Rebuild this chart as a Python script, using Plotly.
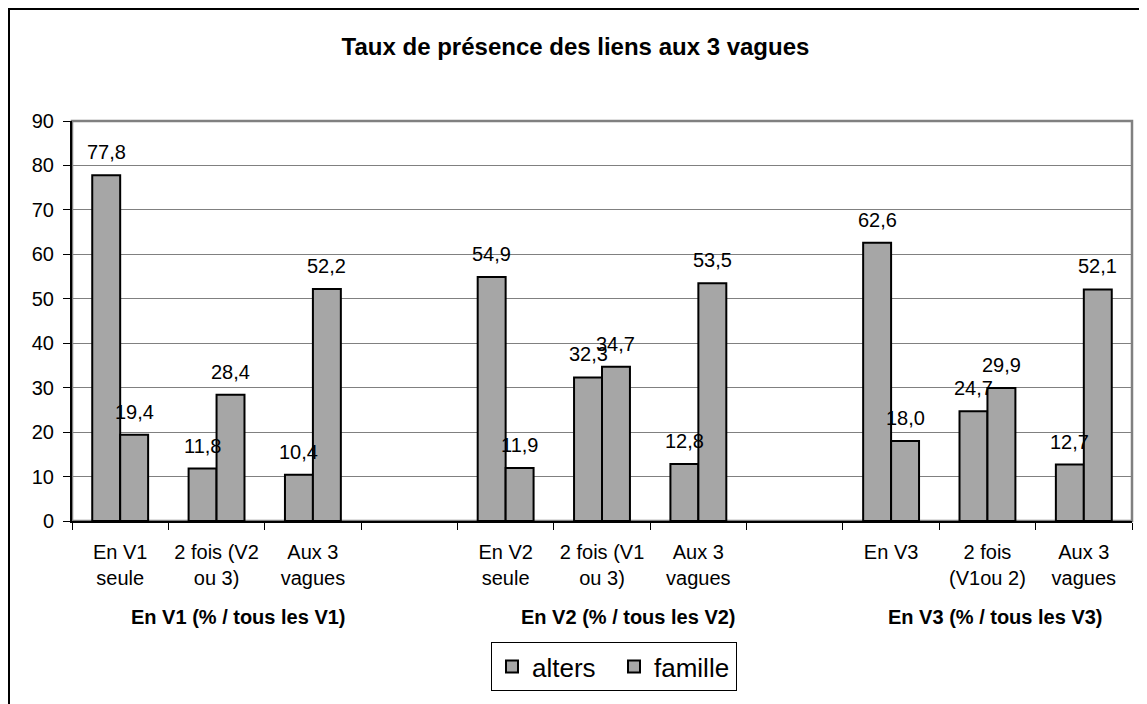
import plotly.graph_objects as go

# ---- data ----
categories = ["En V1<br>seule", "2 fois (V2<br>ou 3)", "Aux 3<br>vagues", "",
              "En V2<br>seule", "2 fois (V1<br>ou 3)", "Aux 3<br>vagues", "",
              "En V3", "2 fois<br>(V1ou 2)", "Aux 3<br>vagues"]
alters = [77.8, 11.8, 10.4, None, 54.9, 32.3, 12.8, None, 62.6, 24.7, 12.7]
famille = [19.4, 28.4, 52.2, None, 11.9, 34.7, 53.5, None, 18.0, 29.9, 52.1]
series_names = ["alters", "famille"]
group_labels = ["En V1 (% / tous les V1)", "En V2 (% / tous les V2)", "En V3 (% / tous les V3)"]
title_text = "Taux de présence des liens aux 3 vagues"

# ---- layout constants (page body has an 8px margin) ----
OFF = 8
W, H = 1147 - OFF, 704 - OFF
PLOT_L, PLOT_R, PLOT_T, PLOT_B = 72 - OFF, 1132 - OFF, 121 - OFF, 521 - OFF
ML, MR, MT, MB = PLOT_L, W - PLOT_R, PLOT_T, H - PLOT_B
PW, PH = PLOT_R - PLOT_L, PLOT_B - PLOT_T
group_label_pos = [1.23, 5.27, 9.08]
FONT = "Arial, Liberation Sans, sans-serif"
BAR_COLOR = "#A6A6A6"

def px_x(px):
    return (px - OFF - PLOT_L) / PW

def px_y(py):
    return (PLOT_B - (py - OFF)) / PH

x_idx = list(range(len(categories)))

def fmt(v):
    return f"{v:.1f}".replace(".", ",")

fig = go.Figure()
for name, vals in zip(series_names, [alters, famille]):
    fig.add_trace(go.Bar(
        x=x_idx, y=vals, name=name,
        marker=dict(color=BAR_COLOR, line=dict(color="black", width=2)),
        hoverinfo="skip",
    ))

bar_w_px = (1 - 0.42) * PW / len(categories) / 2
annotations = []
for k, vals in enumerate([alters, famille]):
    shift = (-0.5 + k) * bar_w_px
    for xi, v in zip(x_idx, vals):
        if v is None:
            continue
        annotations.append(dict(
            x=xi, y=v, xref="x", yref="y", text=fmt(v), showarrow=False,
            xshift=shift, yshift=23, yanchor="middle", xanchor="center",
            font=dict(family=FONT, size=20, color="black"),
        ))

for gx, gl in zip(group_label_pos, group_labels):
    annotations.append(dict(
        x=gx, y=px_y(617), xref="x", yref="paper", text=f"<b>{gl}</b>",
        showarrow=False, xanchor="center", yanchor="middle",
        font=dict(family=FONT, size=20, color="black"),
    ))

fig.update_layout(
    width=W, height=H,
    margin=dict(l=ML, r=MR, t=MT, b=MB),
    paper_bgcolor="white", plot_bgcolor="white",
    barmode="group", bargap=0.42, bargroupgap=0,
    font=dict(family=FONT, size=20, color="black"),
    title=dict(text=f"<b>{title_text}</b>", x=px_x(575.5), xref="paper",
               xanchor="center", y=1 - (47 - OFF) / H, yref="container", yanchor="middle",
               font=dict(family=FONT, size=24, color="black")),
    showlegend=True,
    legend=dict(orientation="h", x=px_x(614), xanchor="center",
                y=px_y(642), yanchor="top",
                bordercolor="black", borderwidth=1, bgcolor="white",
                font=dict(family=FONT, size=26, color="black"),
                entrywidth=77, entrywidthmode="pixels",
                itemsizing="constant"),
    annotations=annotations,
    shapes=[
        dict(type="rect", xref="paper", yref="paper", x0=0, x1=1, y0=0, y1=1,
             line=dict(color="#808080", width=2.5), layer="below"),
        dict(type="rect", xref="paper", yref="paper",
             x0=px_x(9), x1=px_x(1170),
             y0=px_y(740), y1=px_y(9),
             line=dict(color="black", width=2), layer="below"),
    ],
)

fig.update_yaxes(range=[0, 90], dtick=10, tick0=0, showgrid=True,
                 gridcolor="#808080", gridwidth=1,
                 showline=True, linecolor="black", linewidth=2,
                 ticks="outside", ticklen=7, tickcolor="black", tickwidth=1,
                 ticklabelstandoff=5,
                 tickfont=dict(family=FONT, size=20, color="black"),
                 zeroline=False, fixedrange=True)
fig.update_xaxes(range=[-0.5, len(categories) - 0.5], tickmode="array",
                 tickvals=x_idx, ticktext=categories,
                 showgrid=False, showline=True, linecolor="black", linewidth=2,
                 ticks="", ticklabelstandoff=12,
                 tickfont=dict(family=FONT, size=20, color="black"),
                 minor=dict(tick0=-0.5, dtick=1, ticks="outside", ticklen=7,
                            tickcolor="black", tickwidth=1, showgrid=False),
                 zeroline=False, fixedrange=True)

fig.write_html("out.html")
